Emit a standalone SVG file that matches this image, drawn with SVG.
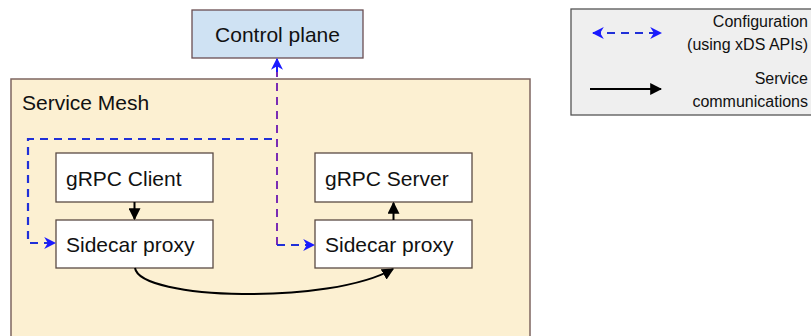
<svg xmlns="http://www.w3.org/2000/svg" width="811" height="336" viewBox="0 0 811 336">
  <style>
    .lbl { font-family: "Liberation Sans", Arial, sans-serif; fill: #111; }
    .node { fill: #ffffff; stroke: #5a4a44; stroke-width: 1.3; }
    .cfg { fill: none; stroke: #2030d8; stroke-width: 2.2; stroke-dasharray: 8 6; }
    .cfgv { fill: none; stroke: #7a2cb4; stroke-width: 2; stroke-dasharray: 8 6; }
    .svc { fill: none; stroke: #000; stroke-width: 2; }
  </style>
  <defs>
    <marker id="blueHead" viewBox="0 0 10 10" refX="9" refY="5" markerWidth="12" markerHeight="12" markerUnits="userSpaceOnUse" orient="auto-start-reverse">
      <path d="M0,0 L10,5 L0,10 L3,5 Z" fill="#1a1aff"/>
    </marker>
    <marker id="blackHead" viewBox="0 0 10 10" refX="9" refY="5" markerWidth="12" markerHeight="12" markerUnits="userSpaceOnUse" orient="auto-start-reverse">
      <path d="M0,0 L10,5 L0,10 Z" fill="#000"/>
    </marker>
  </defs>

  <rect width="811" height="336" fill="#ffffff"/>

  <g id="service-mesh">
    <rect x="11" y="79" width="519" height="270" fill="#fcf0d2" stroke="#7e6660" stroke-width="1.5"/>
    <text class="lbl" x="22" y="110" font-size="21">Service Mesh</text>
  </g>

  <g id="control-plane">
    <rect x="192" y="10" width="171" height="48" fill="#cfe2f3" stroke="#6a4e52" stroke-width="1.3"/>
    <text class="lbl" x="277.5" y="42" font-size="21" text-anchor="middle">Control plane</text>
  </g>

  <g id="grpc-client">
    <rect class="node" x="56" y="153" width="157" height="49"/>
    <text class="lbl" x="66" y="186" font-size="21">gRPC Client</text>
  </g>
  <g id="sidecar-left">
    <rect class="node" x="56" y="220" width="157" height="48"/>
    <text class="lbl" x="66" y="252" font-size="21">Sidecar proxy</text>
  </g>
  <g id="grpc-server">
    <rect class="node" x="315" y="153" width="157" height="49"/>
    <text class="lbl" x="325" y="186" font-size="21">gRPC Server</text>
  </g>
  <g id="sidecar-right">
    <rect class="node" x="315" y="220" width="157" height="48"/>
    <text class="lbl" x="325" y="252" font-size="21">Sidecar proxy</text>
  </g>

  <g id="legend">
    <rect x="571" y="9" width="250" height="106" fill="#efefef" stroke="#555" stroke-width="1.3"/>
    <line class="cfg" x1="593" y1="33" x2="661" y2="33" marker-start="url(#blueHead)" marker-end="url(#blueHead)"/>
    <text class="lbl" x="808" y="27" font-size="16" text-anchor="end">Configuration</text>
    <text class="lbl" x="808" y="50" font-size="16" text-anchor="end">(using xDS APIs)</text>
    <line class="svc" x1="590" y1="89" x2="661" y2="89" marker-end="url(#blackHead)"/>
    <text class="lbl" x="808" y="84" font-size="16" text-anchor="end">Service</text>
    <text class="lbl" x="808" y="107" font-size="16" text-anchor="end">communications</text>
  </g>

  <g id="connectors">
    <!-- xDS configuration paths from the control plane to both sidecars -->
    <polyline class="cfg" points="272,139 28,139 28,243 55,243" marker-end="url(#blueHead)"/>
    <polyline class="cfgv" points="277,245 277,59"/>
    <line x1="277" y1="72" x2="277" y2="59" stroke="#1a1aff" stroke-width="2" marker-end="url(#blueHead)"/>
    <line class="cfg" x1="277" y1="245" x2="314" y2="245" stroke-dasharray="6 5" marker-end="url(#blueHead)"/>
    <!-- service traffic -->
    <line class="svc" x1="134.5" y1="202" x2="134.5" y2="219" stroke-width="1.5" marker-end="url(#blackHead)"/>
    <line class="svc" x1="393.5" y1="220" x2="393.5" y2="203" stroke-width="1.5" marker-end="url(#blackHead)"/>
    <path class="svc" d="M135,268 C140,300 330,305 393,269" marker-end="url(#blackHead)"/>
  </g>
</svg>
